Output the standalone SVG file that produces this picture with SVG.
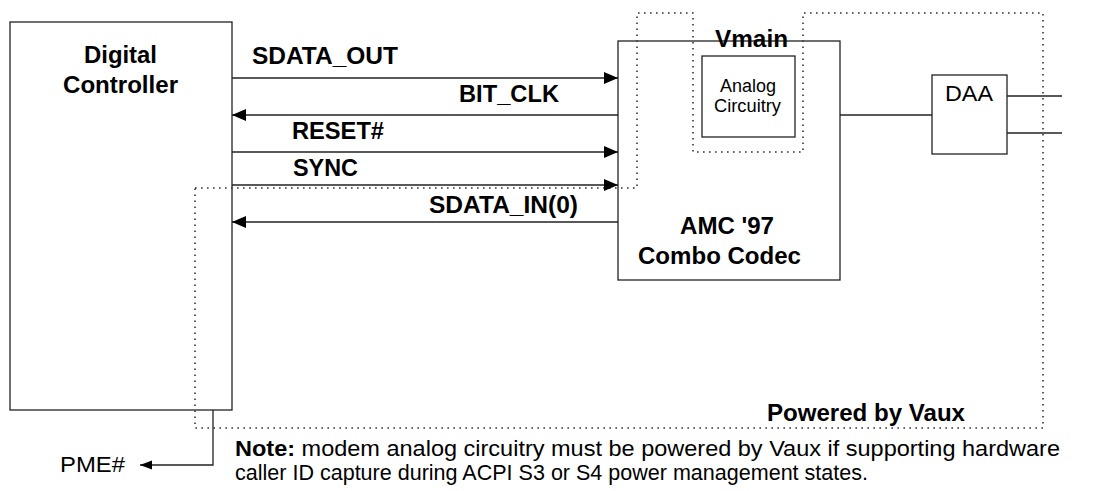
<svg xmlns="http://www.w3.org/2000/svg" width="1095" height="491" viewBox="0 0 1095 491">
  <defs>
    <style>
      .box { fill: #ffffff; stroke: #222; stroke-width: 1.3; }
      .wire { fill: none; stroke: #222; stroke-width: 1.3; }
      .dots { fill: none; stroke: #333; stroke-width: 1.6; stroke-dasharray: 1.6 4.4; }
      .lbl { font-family: "Liberation Sans", Arial, sans-serif; font-weight: bold; font-size: 23px; fill: #000; }
      .reg { font-family: "Liberation Sans", Arial, sans-serif; font-size: 22px; fill: #000; }
      .small { font-family: "Liberation Sans", Arial, sans-serif; font-size: 18px; fill: #000; }
    </style>
    <marker id="arrow" markerUnits="userSpaceOnUse" markerWidth="15" markerHeight="13" refX="14" refY="6" orient="auto">
      <path d="M0,0 L14,6 L0,12 z" fill="#000"/>
    </marker>
    <marker id="arrowSmall" markerUnits="userSpaceOnUse" markerWidth="14" markerHeight="10" refX="12" refY="4.5" orient="auto">
      <path d="M0,0 L12,4.5 L0,9 z" fill="#000"/>
    </marker>
  </defs>

  <rect width="1095" height="491" fill="#ffffff"/>

  <!-- Digital controller -->
  <g id="digital-controller">
    <rect class="box" x="10" y="22" width="222" height="388"/>
    <text class="lbl" x="84" y="63" textLength="73" lengthAdjust="spacingAndGlyphs">Digital</text>
    <text class="lbl" x="63" y="93" textLength="115" lengthAdjust="spacingAndGlyphs">Controller</text>
  </g>

  <!-- Codec -->
  <g id="codec">
    <rect class="box" x="618" y="41" width="222" height="239"/>
    <text class="lbl" x="680" y="234" textLength="94" lengthAdjust="spacingAndGlyphs">AMC '97</text>
    <text class="lbl" x="638" y="264" textLength="163" lengthAdjust="spacingAndGlyphs">Combo Codec</text>
  </g>

  <!-- Analog circuitry inside the codec -->
  <g id="analog-circuitry">
    <rect class="box" x="702" y="56" width="93" height="81"/>
    <text class="small" x="720" y="92" textLength="56" lengthAdjust="spacingAndGlyphs">Analog</text>
    <text class="small" x="714" y="112" textLength="67" lengthAdjust="spacingAndGlyphs">Circuitry</text>
  </g>

  <!-- DAA -->
  <g id="daa">
    <rect class="box" x="932" y="75" width="75" height="79"/>
    <text class="reg" x="945" y="101" textLength="48" lengthAdjust="spacingAndGlyphs">DAA</text>
  </g>

  <!-- Power domains -->
  <g id="power-domains">
    <path class="dots" d="M195,188 H637 V13 H693 V152 H803 V13 H1043 V428 H195 Z"/>
    <text class="lbl" x="715" y="47" textLength="73" lengthAdjust="spacingAndGlyphs">Vmain</text>
    <text class="lbl" x="767" y="421" textLength="198" lengthAdjust="spacingAndGlyphs">Powered by Vaux</text>
  </g>

  <!-- Signals -->
  <g id="connectors">
    <line class="wire" x1="232" y1="78" x2="618" y2="78" marker-end="url(#arrow)"/>
    <line class="wire" x1="618" y1="115" x2="232" y2="115" marker-end="url(#arrow)"/>
    <line class="wire" x1="232" y1="152" x2="618" y2="152" marker-end="url(#arrow)"/>
    <line class="wire" x1="232" y1="185" x2="618" y2="185" marker-end="url(#arrow)"/>
    <line class="wire" x1="618" y1="222" x2="232" y2="222" marker-end="url(#arrow)"/>
    <line class="wire" x1="840" y1="115" x2="932" y2="115"/>
    <line class="wire" x1="1007" y1="96" x2="1062" y2="96"/>
    <line class="wire" x1="1007" y1="133" x2="1062" y2="133"/>
    <path class="wire" d="M213,410 V465 H140" marker-end="url(#arrowSmall)"/>

    <text class="lbl" x="252" y="64" textLength="146" lengthAdjust="spacingAndGlyphs">SDATA_OUT</text>
    <text class="lbl" x="459" y="102" textLength="100" lengthAdjust="spacingAndGlyphs">BIT_CLK</text>
    <text class="lbl" x="292" y="139" textLength="92" lengthAdjust="spacingAndGlyphs">RESET#</text>
    <text class="lbl" x="293" y="176" textLength="65" lengthAdjust="spacingAndGlyphs">SYNC</text>
    <text class="lbl" x="429" y="213" textLength="149" lengthAdjust="spacingAndGlyphs">SDATA_IN(0)</text>
    <text class="reg" x="60" y="472" textLength="65" lengthAdjust="spacingAndGlyphs">PME#</text>
  </g>

  <!-- Note -->
  <g id="note">
    <text class="reg" x="235" y="456" textLength="825" lengthAdjust="spacingAndGlyphs"><tspan font-weight="bold">Note:</tspan> modem analog circuitry must be powered by Vaux if supporting hardware</text>
    <text class="reg" x="235" y="480" textLength="633" lengthAdjust="spacingAndGlyphs">caller ID capture during ACPI S3 or S4 power management states.</text>
  </g>
</svg>
